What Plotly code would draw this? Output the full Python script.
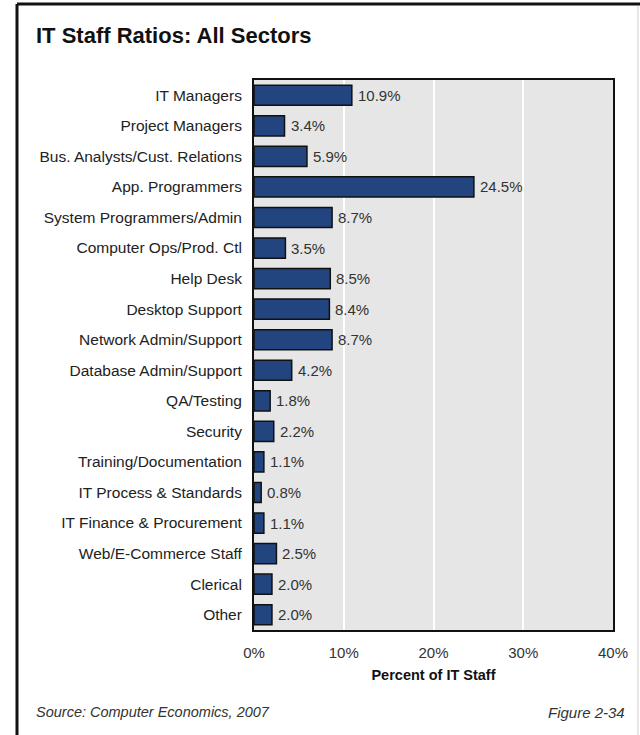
import plotly.graph_objects as go

categories = ["IT Managers", "Project Managers", "Bus. Analysts/Cust. Relations", "App. Programmers",
              "System Programmers/Admin", "Computer Ops/Prod. Ctl", "Help Desk", "Desktop Support",
              "Network Admin/Support", "Database Admin/Support", "QA/Testing", "Security",
              "Training/Documentation", "IT Process & Standards", "IT Finance & Procurement",
              "Web/E-Commerce Staff", "Clerical", "Other"]
values = [10.9, 3.4, 5.9, 24.5, 8.7, 3.5, 8.5, 8.4, 8.7, 4.2, 1.8, 2.2, 1.1, 0.8, 1.1, 2.5, 2.0, 2.0]
x_ticks = [0, 10, 20, 30, 40]
x_tick_labels = ["0%", "10%", "20%", "30%", "40%"]

W, H = 640, 735
L, R, T, B = 254, 27, 80, 105
pw, ph = W - L - R, H - T - B

def px(x):
    return (x - L) / pw

def py(y):
    return (H - B - y) / ph

FONT = "Liberation Sans, Arial, sans-serif"

fig = go.Figure(go.Bar(
    x=values, y=categories, orientation="h",
    marker=dict(color="#22457f", line=dict(color="#111111", width=1.5)),
    width=0.66,
))

value_annotations = [
    dict(x=v, y=c, xref="x", yref="y", text=f"{v:.1f}%", showarrow=False,
         xanchor="left", yanchor="middle", xshift=4,
         font=dict(family=FONT, size=15, color="#333333"))
    for c, v in zip(categories, values)
]

fig.update_layout(
    width=W, height=H, margin=dict(l=L, r=R, t=T, b=B),
    paper_bgcolor="white", plot_bgcolor="#e6e6e6",
    showlegend=False,
    font=dict(family=FONT, size=15.5, color="#222222"),
    xaxis=dict(range=[0, 40], tickvals=x_ticks, ticktext=x_tick_labels,
               showgrid=True, gridcolor="white", gridwidth=2, zeroline=False,
               showline=True, linecolor="#111111", linewidth=2, mirror=True,
               ticks="outside", ticklen=8, tickcolor="rgba(0,0,0,0)",
               tickfont=dict(size=15, color="#333333"),
               title=dict(text="<b>Percent of IT Staff</b>", font=dict(size=14.5, color="#111111"), standoff=10)),
    yaxis=dict(autorange="reversed", showgrid=False, showline=True, linecolor="#111111",
               linewidth=2, mirror=True, ticks="outside", ticklen=7, tickcolor="rgba(0,0,0,0)",
               tickfont=dict(size=15.5, color="#222222")),
    shapes=[
        dict(type="line", xref="paper", yref="paper", x0=px(17), x1=px(640), y0=py(4), y1=py(4),
             line=dict(color="#111111", width=3)),
        dict(type="line", xref="paper", yref="paper", x0=px(17), x1=px(17), y0=py(4), y1=py(735),
             line=dict(color="#111111", width=3)),
        dict(type="line", xref="paper", yref="paper", x0=px(638), x1=px(638), y0=py(6), y1=py(735),
             line=dict(color="#cccccc", width=1)),
    ],
    annotations=value_annotations + [
        dict(text="<b>IT Staff Ratios: All Sectors</b>", xref="paper", yref="paper",
             x=px(34), y=py(35), xanchor="left", yanchor="middle", showarrow=False,
             font=dict(size=22, color="#111111")),
        dict(text="<i>Source: Computer Economics, 2007</i>", xref="paper", yref="paper",
             x=px(34), y=py(712), xanchor="left", yanchor="middle", showarrow=False,
             font=dict(size=14.5, color="#333333")),
        dict(text="<i>Figure 2-34</i>", xref="paper", yref="paper",
             x=px(627), y=py(712), xanchor="right", yanchor="middle", showarrow=False,
             font=dict(size=15, color="#333333")),
    ],
)

fig.write_html("out.html")
